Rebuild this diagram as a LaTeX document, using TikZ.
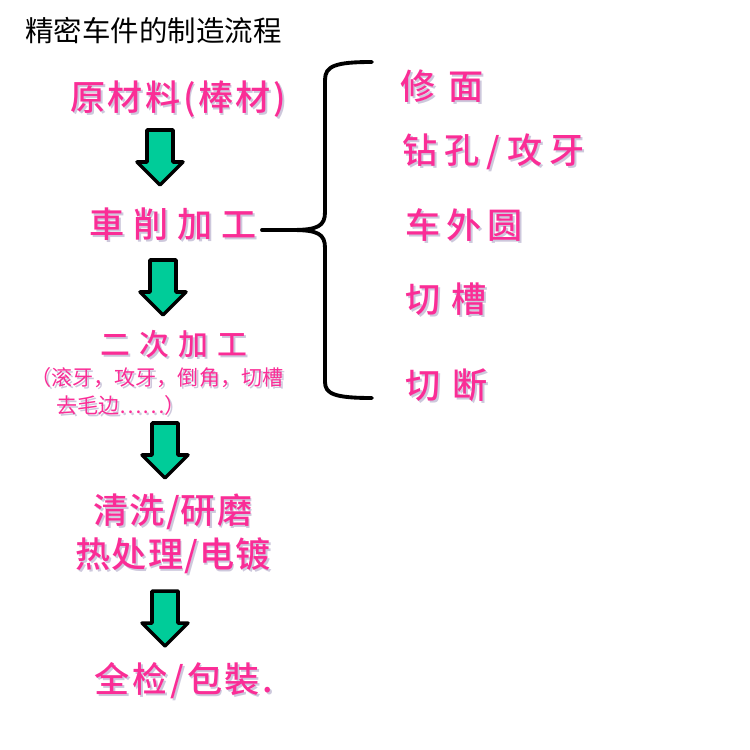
\documentclass[tikz,border=0pt]{standalone}
\usepackage{xcolor}
\usepackage{fontspec}
\usepackage{tikz}
\usetikzlibrary{arrows.meta}

\newfontfamily\cjk{Noto Sans CJK SC}
\newfontfamily\cjkmed{Noto Sans CJK SC}[UprightFont={* Medium}]
\definecolor{stepPink}{RGB}{250,45,150}
\definecolor{shadeGray}{RGB}{205,200,220}
\definecolor{arrowGreen}{RGB}{0,204,153}

\newcommand{\shadowtext}[1]{\makebox[0pt][l]{\hspace{1.1pt}\raisebox{-1.1pt}{\textcolor{shadeGray}{#1}}}#1}
\newcommand{\flowarrow}[1]{%
  \draw[blockarrow, shift={(#1)}] (-13,-28) -- (13,-28) -- (13,4) -- (23,4)
    -- (0,27) -- (-23,4) -- (-13,4) -- cycle;}

\tikzset{
  steptext/.style={text=stepPink, inner sep=0pt, font=\cjkmed\fontsize{20}{24}\selectfont},
  subtext/.style={text=stepPink, inner sep=0pt, font=\cjk\fontsize{12}{15}\selectfont, align=left},
  blockarrow/.style={fill=arrowGreen, draw=black, line width=2pt, line join=round},
  bracepath/.style={line width=2.2pt, line cap=round}
}

\begin{document}
\begin{tikzpicture}[x=0.02cm, y=-0.02cm]
    \useasboundingbox (0,0) rectangle (750,750);

    \node[anchor=west, inner sep=0pt, font=\cjk\fontsize{16.2}{19}\selectfont] (title) at (25,31) {精密车件的制造流程};

    \node[steptext] (raw) at (178,100) {\addfontfeatures{LetterSpace=7}\shadowtext{原材料(棒材)}};
    \node[steptext] (turn) at (173,225) {\addfontfeatures{LetterSpace=25}\shadowtext{車削加工}};
    \node[steptext, font=\cjkmed\fontsize{17}{20}\selectfont] (second) at (174,345) {\addfontfeatures{LetterSpace=31}\shadowtext{二次加工}};
    \node[subtext, anchor=north west] (detail) at (30,367) {\shadowtext{（滚牙，攻牙，倒角，切槽}\\[1pt]
        \hspace*{15pt}\shadowtext{去毛边……）}};
    \node[steptext] (clean) at (173,513) {\addfontfeatures{LetterSpace=3}\shadowtext{清洗/研磨}};
    \node[steptext] (heat) at (173,557) {\addfontfeatures{LetterSpace=3}\shadowtext{热处理/电镀}};
    \node[steptext] (pack) at (184,682) {\addfontfeatures{LetterSpace=8}\shadowtext{全检/包裝.}};

    \node[steptext, anchor=west] (face) at (400,87) {\addfontfeatures{LetterSpace=37}\shadowtext{修面}};
    \node[steptext, anchor=west] (drill) at (402,153) {\addfontfeatures{LetterSpace=20}\shadowtext{钻孔/攻牙}};
    \node[steptext, anchor=west] (outer) at (405,226) {\addfontfeatures{LetterSpace=17}\shadowtext{车外圆}};
    \node[steptext, anchor=west] (groove) at (405,300) {\addfontfeatures{LetterSpace=31}\shadowtext{切槽}};
    \node[steptext, anchor=west] (cutoff) at (405,386) {\addfontfeatures{LetterSpace=35}\shadowtext{切断}};

    \coordinate (a1) at (160,158);
    \coordinate (a2) at (163,288);
    \coordinate (a3) at (165,451);
    \coordinate (a4) at (165,619);
    \flowarrow{a1}
    \flowarrow{a2}
    \flowarrow{a3}
    \flowarrow{a4}

    \coordinate (tip) at (292,230);
    \coordinate (top) at (372,62);
    \coordinate (bottom) at (372,398);
    \draw[bracepath] (262,230) -- (tip);
    \draw[bracepath] (tip) .. controls (318,230) and (325,226) .. (325,212) -- (325,80)
        .. controls (325,66) and (335,62) .. (top);
    \draw[bracepath] (tip) .. controls (318,230) and (325,234) .. (325,248) -- (325,382)
        .. controls (325,394) and (335,398) .. (bottom);
\end{tikzpicture}
\end{document}
